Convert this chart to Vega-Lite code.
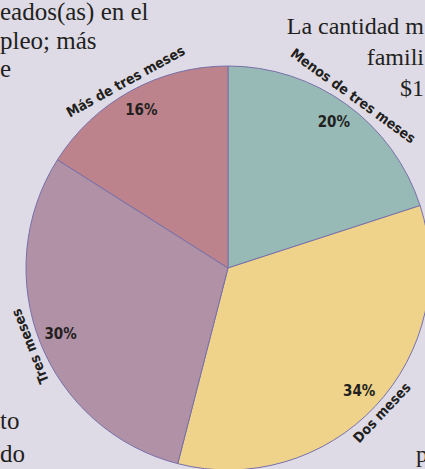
{
  "$schema": "https://vega.github.io/schema/vega-lite/v6.json",
  "autosize": {"type": "pad"},
  "padding": 0,
  "background": "#dedbe6",
  "bounds": "flush",
  "spacing": 0,
  "title": {
    "text": "p",
    "orient": "bottom",
    "anchor": "end",
    "frame": "group",
    "align": "right",
    "baseline": "alphabetic",
    "font": "Liberation Serif",
    "fontSize": 24,
    "fontWeight": "normal",
    "color": "#231f20",
    "offset": 0,
    "dx": -2,
    "dy": -10
  },
  "vconcat": [
    {
      "bounds": "flush",
      "spacing": 0,
      "title": {
        "text": ["to", "do"],
        "orient": "bottom",
        "anchor": "start",
        "frame": "group",
        "align": "left",
        "baseline": "alphabetic",
        "font": "Liberation Serif",
        "fontSize": 25,
        "fontWeight": "normal",
        "color": "#231f20",
        "lineHeight": 33,
        "offset": 0,
        "dx": -26,
        "dy": -43
      },
      "vconcat": [
        {
          "bounds": "flush",
          "spacing": 0,
          "title": {
            "text": ["eados(as) en el", "pleo; más", "e"],
            "orient": "bottom",
            "anchor": "start",
            "frame": "group",
            "align": "left",
            "baseline": "alphabetic",
            "font": "Liberation Serif",
            "fontSize": 25,
            "fontWeight": "normal",
            "color": "#231f20",
            "lineHeight": 28.5,
            "offset": 0,
            "dx": -26,
            "dy": -452
          },
          "vconcat": [
            {
              "title": {
                "text": ["La cantidad m", "famili", "$1"],
                "orient": "bottom",
                "anchor": "end",
                "frame": "group",
                "align": "right",
                "baseline": "alphabetic",
                "font": "Liberation Serif",
                "fontSize": 24,
                "fontWeight": "normal",
                "color": "#231f20",
                "lineHeight": 31,
                "offset": 0,
                "dx": -6,
                "dy": -438
              },
              "width": 404,
              "height": 404,
              "data": {
                "values": [
                  {"duracion": "Menos de tres meses", "fraccion": 0.20, "orden": 1},
                  {"duracion": "Dos meses", "fraccion": 0.34, "orden": 2},
                  {"duracion": "Tres meses", "fraccion": 0.30, "orden": 3},
                  {"duracion": "Más de tres meses", "fraccion": 0.16, "orden": 4}
                ]
              },
              "encoding": {
                "theta": {"field": "fraccion", "type": "quantitative", "stack": true},
                "order": {"field": "orden", "type": "quantitative"}
              },
              "layer": [
                {
                  "mark": {"type": "arc", "radius": 202, "stroke": "#7870aa", "strokeWidth": 1},
                  "encoding": {
                    "color": {
                      "field": "duracion",
                      "type": "nominal",
                      "scale": {
                        "domain": ["Menos de tres meses", "Dos meses", "Tres meses", "Más de tres meses"],
                        "range": ["#97bab7", "#efd38a", "#b191a6", "#bc838c"]
                      },
                      "legend": null
                    }
                  }
                },
                {
                  "mark": {"type": "text", "radius": 180, "font": "Liberation Sans Narrow, DejaVu Sans Condensed, Roboto, sans-serif", "fontWeight": "bold", "fontSize": 15, "fill": "#231f20", "align": "center", "baseline": "middle"},
                  "encoding": {
                    "text": {"field": "fraccion", "type": "quantitative", "format": ".0%"}
                  }
                },
                {
                  "transform": [
                    {"window": [{"op": "sum", "field": "fraccion", "as": "acum"}], "sort": [{"field": "orden"}], "frame": [null, 0]},
                    {"calculate": "(datum.acum - datum.fraccion / 2) * 360", "as": "medio"},
                    {"calculate": "datum.medio > 180 ? datum.medio - 360 : (datum.medio > 90 ? datum.medio - 180 : datum.medio)", "as": "giro"}
                  ],
                  "mark": {"type": "text", "radius": 212, "font": "Liberation Sans Narrow, DejaVu Sans Condensed, Roboto, sans-serif", "fontWeight": "bold", "fontSize": 14, "fill": "#231f20", "align": "center", "baseline": "middle"},
                  "encoding": {
                    "text": {"field": "duracion", "type": "nominal"},
                    "angle": {"field": "giro", "type": "quantitative", "scale": null}
                  }
                }
              ]
            }
          ]
        }
      ]
    }
  ],
  "config": {"view": {"stroke": null}}
}
